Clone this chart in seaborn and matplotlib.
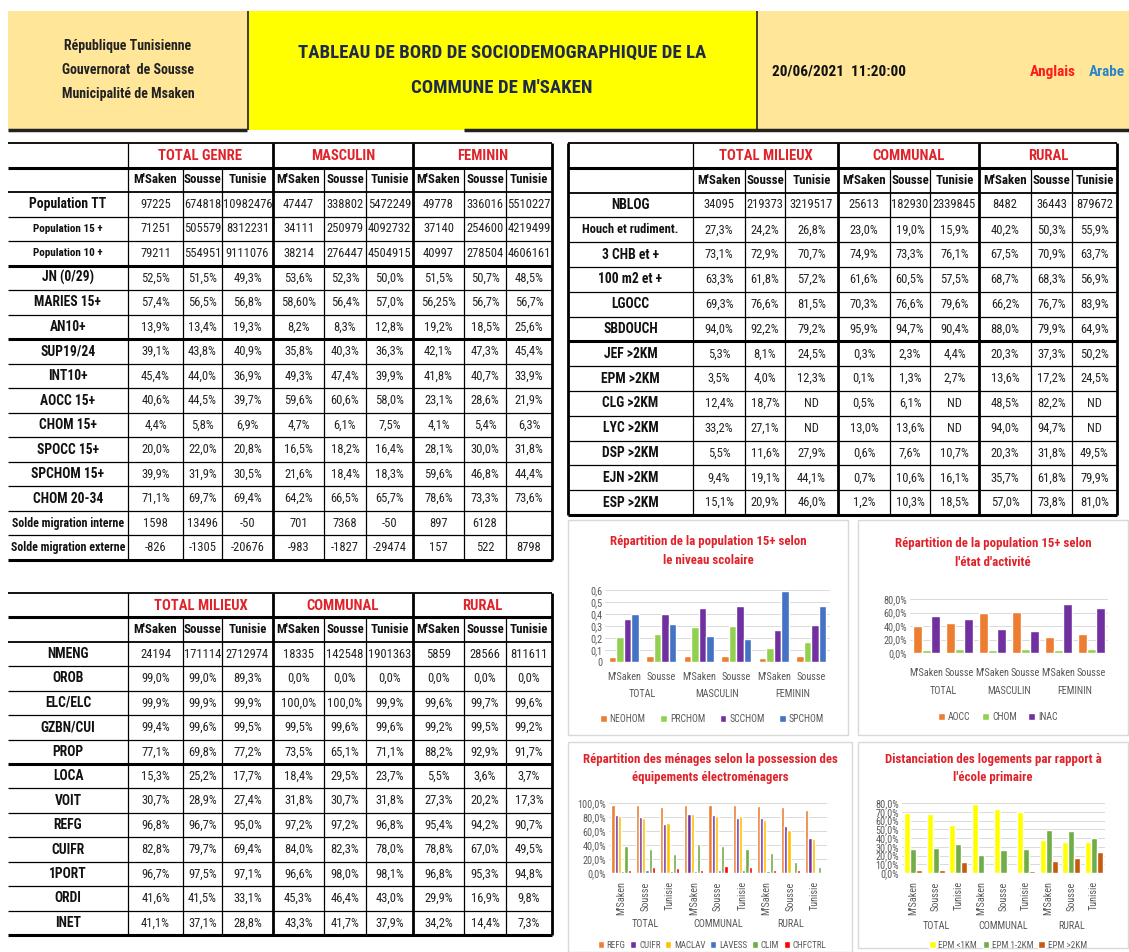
import matplotlib
matplotlib.use("Agg")
import matplotlib.pyplot as plt
from matplotlib import font_manager
from matplotlib.patches import Rectangle, Patch
from matplotlib.ticker import FixedLocator
import seaborn as sns
import pandas as pd

W, H = 1129, 952
RED = '#E0232B'

# ---------------- data ----------------
places = ["M'Saken", "Sousse", "Tunisie"]
genre_groups = ["TOTAL GENRE", "MASCULIN", "FEMININ"]
milieu_groups = ["TOTAL MILIEUX", "COMMUNAL", "RURAL"]

pop_labels = ["Population TT", "Population 15 +", "Population 10 +", "JN (0/29)", "MARIES 15+",
              "AN10+", "SUP19/24", "INT10+", "AOCC 15+", "CHOM 15+", "SPOCC 15+", "SPCHOM 15+",
              "CHOM 20-34", "Solde migration interne", "Solde migration externe"]
pop_values = [
    ["97225", "674818", "10982476", "47447", "338802", "5472249", "49778", "336016", "5510227"],
    ["71251", "505579", "8312231", "34111", "250979", "4092732", "37140", "254600", "4219499"],
    ["79211", "554951", "9111076", "38214", "276447", "4504915", "40997", "278504", "4606161"],
    ["52,5%", "51,5%", "49,3%", "53,6%", "52,3%", "50,0%", "51,5%", "50,7%", "48,5%"],
    ["57,4%", "56,5%", "56,8%", "58,60%", "56,4%", "57,0%", "56,25%", "56,7%", "56,7%"],
    ["13,9%", "13,4%", "19,3%", "8,2%", "8,3%", "12,8%", "19,2%", "18,5%", "25,6%"],
    ["39,1%", "43,8%", "40,9%", "35,8%", "40,3%", "36,3%", "42,1%", "47,3%", "45,4%"],
    ["45,4%", "44,0%", "36,9%", "49,3%", "47,4%", "39,9%", "41,8%", "40,7%", "33,9%"],
    ["40,6%", "44,5%", "39,7%", "59,6%", "60,6%", "58,0%", "23,1%", "28,6%", "21,9%"],
    ["4,4%", "5,8%", "6,9%", "4,7%", "6,1%", "7,5%", "4,1%", "5,4%", "6,3%"],
    ["20,0%", "22,0%", "20,8%", "16,5%", "18,2%", "16,4%", "28,1%", "30,0%", "31,8%"],
    ["39,9%", "31,9%", "30,5%", "21,6%", "18,4%", "18,3%", "59,6%", "46,8%", "44,4%"],
    ["71,1%", "69,7%", "69,4%", "64,2%", "66,5%", "65,7%", "78,6%", "73,3%", "73,6%"],
    ["1598", "13496", "-50", "701", "7368", "-50", "897", "6128", ""],
    ["-826", "-1305", "-20676", "-983", "-1827", "-29474", "157", "522", "8798"],
]

log_labels = ["NBLOG", "Houch et rudiment.", "3 CHB et +", "100 m2 et +", "LGOCC", "SBDOUCH",
              "JEF >2KM", "EPM >2KM", "CLG >2KM", "LYC >2KM", "DSP >2KM", "EJN >2KM", "ESP >2KM"]
log_values = [
    ["34095", "219373", "3219517", "25613", "182930", "2339845", "8482", "36443", "879672"],
    ["27,3%", "24,2%", "26,8%", "23,0%", "19,0%", "15,9%", "40,2%", "50,3%", "55,9%"],
    ["73,1%", "72,9%", "70,7%", "74,9%", "73,3%", "76,1%", "67,5%", "70,9%", "63,7%"],
    ["63,3%", "61,8%", "57,2%", "61,6%", "60,5%", "57,5%", "68,7%", "68,3%", "56,9%"],
    ["69,3%", "76,6%", "81,5%", "70,3%", "76,6%", "79,6%", "66,2%", "76,7%", "83,9%"],
    ["94,0%", "92,2%", "79,2%", "95,9%", "94,7%", "90,4%", "88,0%", "79,9%", "64,9%"],
    ["5,3%", "8,1%", "24,5%", "0,3%", "2,3%", "4,4%", "20,3%", "37,3%", "50,2%"],
    ["3,5%", "4,0%", "12,3%", "0,1%", "1,3%", "2,7%", "13,6%", "17,2%", "24,5%"],
    ["12,4%", "18,7%", "ND", "0,5%", "6,1%", "ND", "48,5%", "82,2%", "ND"],
    ["33,2%", "27,1%", "ND", "13,0%", "13,6%", "ND", "94,0%", "94,7%", "ND"],
    ["5,5%", "11,6%", "27,9%", "0,6%", "7,6%", "10,7%", "20,3%", "31,8%", "49,5%"],
    ["9,4%", "19,1%", "44,1%", "0,7%", "10,6%", "16,1%", "35,7%", "61,8%", "79,9%"],
    ["15,1%", "20,9%", "46,0%", "1,2%", "10,3%", "18,5%", "57,0%", "73,8%", "81,0%"],
]

men_labels = ["NMENG", "OROB", "ELC/ELC", "GZBN/CUI", "PROP", "LOCA", "VOIT", "REFG",
              "CUIFR", "1PORT", "ORDI", "INET"]
men_values = [
    ["24194", "171114", "2712974", "18335", "142548", "1901363", "5859", "28566", "811611"],
    ["99,0%", "99,0%", "89,3%", "0,0%", "0,0%", "0,0%", "0,0%", "0,0%", "0,0%"],
    ["99,9%", "99,9%", "99,9%", "100,0%", "100,0%", "99,9%", "99,6%", "99,7%", "99,6%"],
    ["99,4%", "99,6%", "99,5%", "99,5%", "99,6%", "99,6%", "99,2%", "99,5%", "99,2%"],
    ["77,1%", "69,8%", "77,2%", "73,5%", "65,1%", "71,1%", "88,2%", "92,9%", "91,7%"],
    ["15,3%", "25,2%", "17,7%", "18,4%", "29,5%", "23,7%", "5,5%", "3,6%", "3,7%"],
    ["30,7%", "28,9%", "27,4%", "31,8%", "30,7%", "31,8%", "27,3%", "20,2%", "17,3%"],
    ["96,8%", "96,7%", "95,0%", "97,2%", "97,2%", "96,8%", "95,4%", "94,2%", "90,7%"],
    ["82,8%", "79,7%", "69,4%", "84,0%", "82,3%", "78,0%", "78,8%", "67,0%", "49,5%"],
    ["96,7%", "97,5%", "97,1%", "96,6%", "98,0%", "98,1%", "96,8%", "95,3%", "94,8%"],
    ["41,6%", "41,5%", "33,1%", "45,3%", "46,4%", "43,0%", "29,9%", "16,9%", "9,8%"],
    ["41,1%", "37,1%", "28,8%", "43,3%", "41,7%", "37,9%", "34,2%", "14,4%", "7,3%"],
]

# chart: niveau scolaire (15+)
scol_groups = ["TOTAL", "MASCULIN", "FEMININ"]
scol_places = ["M'Saken", "Sousse"]
scol_series = ["NEOHOM", "PRCHOM", "SCCHOM", "SPCHOM"]
neohom = [0.04, 0.05, 0.05, 0.05, 0.03, 0.05]
prchom = [0.21, 0.23, 0.29, 0.30, 0.12, 0.17]
scchom = [0.36, 0.40, 0.45, 0.47, 0.27, 0.31]
spchom = [0.40, 0.32, 0.22, 0.19, 0.59, 0.47]

# chart: etat d'activite
act_series = ["AOCC", "CHOM", "INAC"]
aocc = [0.406, 0.445, 0.596, 0.606, 0.231, 0.286]
chom = [0.044, 0.058, 0.047, 0.061, 0.041, 0.054]
inac = [0.550, 0.497, 0.357, 0.333, 0.728, 0.660]

# chart: equipements electromenagers
equip_groups = ["TOTAL", "COMMUNAL", "RURAL"]
equip_series = ["REFG", "CUIFR", "MACLAV", "LAVESS", "CLIM", "CHFCTRL"]
refg = [0.968, 0.967, 0.950, 0.972, 0.972, 0.968, 0.954, 0.942, 0.907]
cuifr = [0.828, 0.797, 0.694, 0.840, 0.823, 0.780, 0.788, 0.670, 0.495]
maclav = [0.82, 0.79, 0.72, 0.84, 0.82, 0.82, 0.76, 0.62, 0.48]
lavess = [0.03, 0.04, 0.03, 0.03, 0.04, 0.04, 0.03, 0.02, 0.01]
clim = [0.38, 0.34, 0.27, 0.42, 0.38, 0.35, 0.29, 0.16, 0.09]
chfctrl = [0.05, 0.09, 0.07, 0.05, 0.10, 0.09, 0.04, 0.04, 0.02]

# chart: distance a l'ecole primaire
epm_series = ["EPM <1KM", "EPM 1-2KM", "EPM >2KM"]
epm_lt1 = [0.69, 0.67, 0.55, 0.79, 0.73, 0.695, 0.38, 0.35, 0.355]
epm_1_2 = [0.28, 0.29, 0.33, 0.21, 0.26, 0.278, 0.49, 0.48, 0.40]
epm_gt2 = [0.035, 0.040, 0.123, 0.001, 0.013, 0.027, 0.136, 0.172, 0.245]

# ---------------- fonts ----------------
# a narrow font if one is installed, otherwise Liberation Sans at reduced size
installed = {f.name for f in font_manager.fontManager.ttflist}
S = 0.84
family = ['Liberation Sans', 'DejaVu Sans']
for name in ['Liberation Sans Narrow', 'Roboto Condensed', 'Open Sans Condensed', 'Arial Narrow']:
    if name in installed:
        family = [name, 'DejaVu Sans']
        S = 1.0
        break


def fs(size):
    return size * S


# ---------------- figure ----------------
sns.set_theme(style="white")
plt.rcParams['font.family'] = family

fig = plt.figure(figsize=(W / 100, H / 100), dpi=100)
bg = fig.add_axes([0, 0, 1, 1])
bg.set_xlim(0, W)
bg.set_ylim(H, 0)
bg.axis('off')


def px_rect(x0, y0, x1, y1):
    return [x0 / W, 1 - y1 / H, (x1 - x0) / W, (y1 - y0) / H]


# header
bg.add_patch(Rectangle((8, 11), 240, 119, facecolor='#FFE699', edgecolor='none'))
bg.add_patch(Rectangle((248, 11), 509, 119, facecolor='#FFFF00', edgecolor='none'))
bg.add_patch(Rectangle((757, 11), 372, 119, facecolor='#FFE699', edgecolor='none'))
bg.vlines([248, 757], 11, 130, color='#222222', lw=1.2)
bg.hlines(130, 8, 247, color='#222222', lw=2.5)
bg.hlines(130, 464, W, color='#222222', lw=2.5)
for y, txt in zip([46, 70, 94], ["République Tunisienne", "Gouvernorat  de Sousse", "Municipalité de Msaken"]):
    bg.text(128, y, txt, ha='center', va='center', fontsize=fs(10), fontweight='bold', color='#222222')
bg.text(502, 53, "TABLEAU DE BORD DE SOCIODEMOGRAPHIQUE DE LA", ha='center', va='center',
        fontsize=fs(13.5), fontweight='bold', color='#1F2A4A')
bg.text(502, 88, "COMMUNE DE M'SAKEN", ha='center', va='center',
        fontsize=fs(13.5), fontweight='bold', color='#1F2A4A')
bg.text(772, 72, "20/06/2021  11:20:00", ha='left', va='center', fontsize=fs(11), fontweight='bold',
        color='#111111')
bg.text(1030, 72, "Anglais", ha='left', va='center', fontsize=fs(11), fontweight='bold', color='#FF1A1A')
bg.text(1089, 72, "Arabe", ha='left', va='center', fontsize=fs(11), fontweight='bold', color='#2E86C8')


def draw_table(xs, top, row_h, groups, labels, rows, thick_after, label_sizes, left_border):
    n = len(labels) + 2
    bottom = top + n * row_h
    for g, name in enumerate(groups):
        cx = (xs[1 + 3 * g] + xs[4 + 3 * g]) / 2
        bg.text(cx, top + row_h / 2 + 1, name, color=RED, fontsize=fs(10.5), fontweight='bold',
                ha='center', va='center')
        for k, p in enumerate(places):
            c = 1 + 3 * g + k
            bg.text((xs[c] + xs[c + 1]) / 2, top + 1.5 * row_h, p, fontsize=fs(9.3), fontweight='bold',
                    ha='center', va='center', color='#111111')
    for i, (lab, vals) in enumerate(zip(labels, rows)):
        cy = top + (i + 2.5) * row_h
        bg.text((xs[0] + xs[1]) / 2, cy, lab, fontsize=fs(label_sizes.get(lab, 9.8)), fontweight='bold',
                ha='center', va='center', color='#111111')
        for c, v in enumerate(vals):
            bg.text((xs[c + 1] + xs[c + 2]) / 2, cy, v, fontsize=fs(9), ha='center', va='center',
                    color='#222222')
    for r in range(n + 1):
        y = top + r * row_h
        if r in (1, n) or (r - 3) in thick_after:
            lw = 2.2
        elif r in (0, 2):
            lw = 1.3
        else:
            lw = 0.9
        bg.hlines(y, xs[0], xs[-1], color='black', lw=lw)
    for c, x in enumerate(xs):
        if c == 0 and not left_border:
            continue
        thick = c in (4, 7, len(xs) - 1) or c == 0
        y0 = top if (thick or c == 1) else top + row_h
        bg.vlines(x, y0, bottom, color='black', lw=2.0 if thick else 0.9)


left_xs = [8, 128, 183, 222, 273, 324, 366, 413, 464, 506, 552]
right_xs = [568, 693, 745, 785, 838, 890, 930, 979, 1031, 1072, 1117]

draw_table(left_xs, 143, (560 - 143) / 17, genre_groups, pop_labels, pop_values, [2, 5],
           {"Population 15 +": 8, "Population 10 +": 8,
            "Solde migration interne": 8.6, "Solde migration externe": 8.6}, False)
draw_table(right_xs, 143, (515 - 143) / 15, milieu_groups, log_labels, log_values, [5],
           {"Houch et rudiment.": 9}, True)
draw_table(left_xs, 593, (935 - 593) / 14, milieu_groups, men_labels, men_values, [4], {}, False)

# chart panels
for x0, y0, x1, y1 in [(568, 520, 848, 735), (858, 520, 1128, 735),
                       (568, 742, 852, 952), (858, 742, 1128, 948)]:
    bg.add_patch(Rectangle((x0, y0), x1 - x0, y1 - y0, facecolor='white', edgecolor='#D9D9D9', lw=1.0))


def make_chart(rect, groups, sub_places, series, values, colors, ylim, yticks, ylabels,
               rotate, titles, title_x, title_ys, group_dy, legend_xy, pad, colspace, legend_fs=7):
    x0, y0, x1, y1 = rect
    ax = fig.add_axes(px_rect(x0, y0, x1, y1))
    ax.set_facecolor('none')
    cats = [f"{g}|{p}" for g in groups for p in sub_places]
    df = pd.DataFrame({
        'cat': [c for s in series for c in cats],
        'serie': [s for s in series for _ in cats],
        'val': [v for s in series for v in values[s]],
    })
    sns.barplot(data=df, x='cat', y='val', hue='serie', order=cats, hue_order=series,
                palette=colors, saturation=1, width=0.8, legend=False, ax=ax)
    ax.set_ylim(*ylim)
    ax.yaxis.set_major_locator(FixedLocator(yticks))
    ax.set_yticklabels(ylabels)
    ax.set_xticks(range(len(cats)))
    ax.set_xticklabels([p for g in groups for p in sub_places], rotation=90 if rotate else 0)
    ax.tick_params(axis='both', length=0, labelsize=fs(7.3), labelcolor='#595959', pad=pad)
    ax.tick_params(axis='y', pad=2)
    ax.set_xlabel('')
    ax.set_ylabel('')
    ax.yaxis.grid(True, color='#D9D9D9', lw=0.7)
    ax.set_axisbelow(True)
    sns.despine(ax=ax, left=True, bottom=True)
    k = len(sub_places)
    for gi, g in enumerate(groups):
        ax.annotate(g, xy=(gi * k + (k - 1) / 2, 0), xycoords=ax.get_xaxis_transform(),
                    xytext=(0, -group_dy), textcoords='offset pixels', ha='center', va='center',
                    fontsize=fs(7.3), color='#595959', annotation_clip=False)
    handles = [Patch(facecolor=c, label=s) for s, c in zip(series, colors)]
    lx, ly = legend_xy
    ax.legend(handles=handles, loc='center', ncol=len(series), frameon=False, fontsize=fs(legend_fs),
              labelcolor='#595959', handlelength=0.7, handleheight=0.7, handletextpad=0.3,
              columnspacing=colspace,
              bbox_to_anchor=((lx - x0) / (x1 - x0), (y1 - ly) / (y1 - y0)))
    for ty, t in zip(title_ys, titles):
        bg.text(title_x, ty, t, ha='center', va='center', fontsize=fs(9.3), fontweight='bold', color=RED)
    return ax


make_chart((605, 590, 830, 662), scol_groups, scol_places, scol_series,
           {"NEOHOM": neohom, "PRCHOM": prchom, "SCCHOM": scchom, "SPCHOM": spchom},
           ['#ED7D31', '#92D050', '#7030A0', '#4472C4'], (0, 0.6),
           [0, 0.1, 0.2, 0.3, 0.4, 0.5, 0.6], ["0", "0,1", "0,2", "0,3", "0,4", "0,5", "0,6"],
           False, ["Répartition de la population 15+ selon", "le niveau scolaire"], 708, [541, 560],
           32, (712, 719), 7, 1.5)

make_chart((910, 599, 1108, 653), scol_groups, scol_places, act_series,
           {"AOCC": aocc, "CHOM": chom, "INAC": inac},
           ['#ED7D31', '#92D050', '#7030A0'], (0, 0.8),
           [0, 0.2, 0.4, 0.6, 0.8], ["0,0%", "20,0%", "40,0%", "60,0%", "80,0%"],
           False, ["Répartition de la population 15+ selon", "l'état d'activité"], 993, [543, 563],
           38, (998, 717), 11, 1.2)

make_chart((609, 803, 827, 873), equip_groups, places, equip_series,
           {"REFG": refg, "CUIFR": cuifr, "MACLAV": maclav, "LAVESS": lavess,
            "CLIM": clim, "CHFCTRL": chfctrl},
           ['#ED7D31', '#7030A0', '#FFC000', '#4472C4', '#70AD47', '#FF0000'], (0, 1.0),
           [0, 0.2, 0.4, 0.6, 0.8, 1.0], ["0,0%", "20,0%", "40,0%", "60,0%", "80,0%", "100,0%"],
           True, ["Répartition des ménages selon la possession des", "équipements électroménagers"],
           710, [760, 778], 51, (712, 945), 6, 0.5, 6.5)

make_chart((902, 803, 1105, 873), equip_groups, places, epm_series,
           {"EPM <1KM": epm_lt1, "EPM 1-2KM": epm_1_2, "EPM >2KM": epm_gt2},
           ['#FFFF00', '#70AD47', '#C55A11'], (0, 0.8),
           [0, 0.1, 0.2, 0.3, 0.4, 0.5, 0.6, 0.7, 0.8],
           ["0,0%", "10,0%", "20,0%", "30,0%", "40,0%", "50,0%", "60,0%", "70,0%", "80,0%"],
           True, ["Distanciation des logements par rapport à", "l'école primaire"],
           993, [760, 778], 53, (1008, 945), 6, 0.6, 6.5)

fig.savefig("out.png", dpi=100)
